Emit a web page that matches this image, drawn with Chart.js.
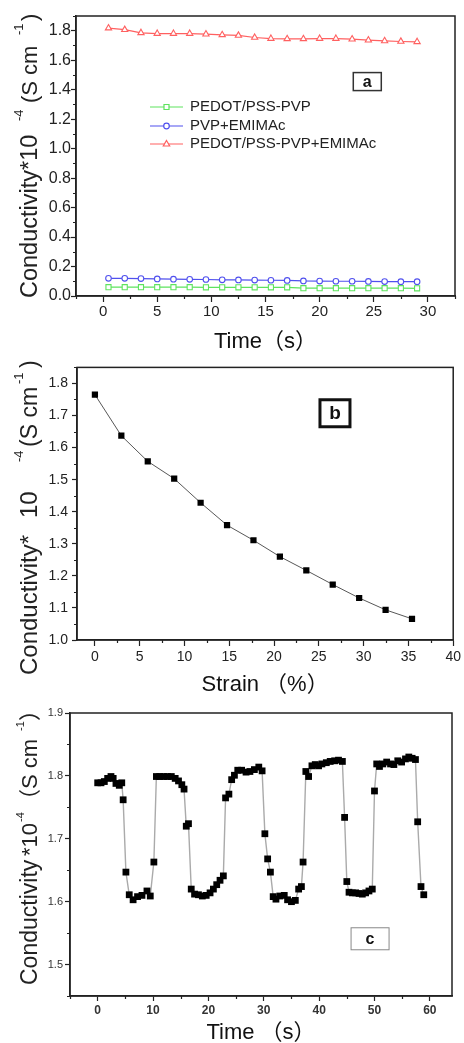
<!DOCTYPE html>
<html>
<head>
<meta charset="utf-8">
<title>Conductivity</title>
<script src="https://cdn.jsdelivr.net/npm/chart.js@4.4.0/dist/chart.umd.min.js"></script>
<style>
    html, body { margin: 0; padding: 0; background: #fff; }
    .panel { position: absolute; left: 0; }
</style>
</head>
<body>
<canvas id="chartA" class="panel" style="top:0" width="464" height="355"></canvas>
<canvas id="chartB" class="panel" style="top:355px" width="464" height="345"></canvas>
<canvas id="chartC" class="panel" style="top:700px" width="464" height="343"></canvas>
<script>
// ---- panel a: conductivity vs time for three films ----
const timeA = [0.5, 2, 3.5, 5, 6.5, 8, 9.5, 11, 12.5, 14, 15.5, 17, 18.5, 20, 21.5, 23, 24.5, 26, 27.5, 29];
const pedotPvp = [0.060, 0.060, 0.060, 0.060, 0.060, 0.060, 0.059, 0.059, 0.059, 0.059, 0.059, 0.059,
                  0.053, 0.053, 0.053, 0.053, 0.053, 0.053, 0.053, 0.052];
const pvpEmim = [0.120, 0.120, 0.118, 0.116, 0.114, 0.113, 0.112, 0.110, 0.109, 0.108, 0.107, 0.106,
                 0.102, 0.101, 0.100, 0.100, 0.099, 0.098, 0.097, 0.097];
const pedotPvpEmim = [1.818, 1.807, 1.786, 1.781, 1.781, 1.781, 1.777, 1.772, 1.768, 1.754, 1.747, 1.745,
                      1.745, 1.747, 1.747, 1.743, 1.736, 1.731, 1.727, 1.725];
const ticksAx = [0, 5, 10, 15, 20, 25, 30];
const minorAx = [-2.5, 2.5, 7.5, 12.5, 17.5, 22.5, 27.5, 32.5];
const ticksAy = [0, 0.2, 0.4, 0.6, 0.8, 1.0, 1.2, 1.4, 1.6, 1.8];
const minorAy = [0.1, 0.3, 0.5, 0.7, 0.9, 1.1, 1.3, 1.5, 1.7, 1.9];

// ---- panel b: conductivity vs strain ----
const strainB = [0, 2.95, 5.9, 8.85, 11.8, 14.75, 17.7, 20.65, 23.6, 26.55, 29.5, 32.45, 35.4];
const condB = [1.765, 1.637, 1.557, 1.503, 1.428, 1.358, 1.311, 1.260, 1.217, 1.173, 1.131, 1.094, 1.066];
const ticksBx = [0, 5, 10, 15, 20, 25, 30, 35, 40];
const minorBx = [2.5, 7.5, 12.5, 17.5, 22.5, 27.5, 32.5, 37.5];
const ticksBy = [1.0, 1.1, 1.2, 1.3, 1.4, 1.5, 1.6, 1.7, 1.8];
const minorBy = [1.05, 1.15, 1.25, 1.35, 1.45, 1.55, 1.65, 1.75, 1.85];

// ---- panel c: cyclic stretching ----
const timeC = [0.0, 0.6, 1.2, 1.8, 2.4, 2.8, 3.3, 3.9, 4.35, 4.6, 5.1, 5.7, 6.4, 7.2, 8.0, 8.9, 9.5,
               10.15, 10.6, 11.2, 11.9, 12.6, 13.3, 14.0, 14.6, 15.2, 15.6, 16.0, 16.4, 16.9, 17.5, 18.2,
               18.9, 19.6, 20.3, 20.9, 21.5, 22.1, 22.7, 23.1, 23.7, 24.2, 24.7, 25.3, 26.0, 26.8, 27.5,
               28.3, 29.1, 29.7, 30.2, 30.7, 31.2, 31.7, 32.2, 32.9, 33.7, 34.3, 35.0, 35.7, 36.3, 36.8,
               37.1, 37.6, 38.1, 38.7, 39.3, 39.9, 40.5, 41.3, 42.0, 42.8, 43.5, 44.2, 44.6, 45.0, 45.4,
               46.0, 46.6, 47.2, 47.8, 48.4, 49.0, 49.6, 50.0, 50.4, 50.9, 51.5, 52.2, 52.9, 53.5, 54.2,
               54.9, 55.6, 56.2, 56.8, 57.4, 57.8, 58.4, 58.9];
const condC = [1.789, 1.789, 1.791, 1.796, 1.799, 1.796, 1.788, 1.785, 1.789, 1.762, 1.647, 1.611, 1.603,
               1.608, 1.610, 1.617, 1.609, 1.663, 1.799, 1.799, 1.799, 1.799, 1.799, 1.796, 1.792, 1.786,
               1.779, 1.720, 1.724, 1.620, 1.612, 1.611, 1.609, 1.610, 1.614, 1.620, 1.627, 1.634, 1.641,
               1.765, 1.771, 1.794, 1.801, 1.809, 1.809, 1.806, 1.807, 1.810, 1.814, 1.808, 1.708, 1.668,
               1.647, 1.608, 1.604, 1.609, 1.610, 1.603, 1.600, 1.602, 1.620, 1.624, 1.663, 1.807, 1.799,
               1.816, 1.818, 1.816, 1.819, 1.821, 1.823, 1.824, 1.825, 1.823, 1.734, 1.632, 1.615, 1.614,
               1.614, 1.613, 1.612, 1.614, 1.617, 1.620, 1.776, 1.819, 1.815, 1.819, 1.822, 1.819, 1.818,
               1.824, 1.822, 1.827, 1.830, 1.828, 1.826, 1.727, 1.624, 1.611];
const ticksCx = [0, 10, 20, 30, 40, 50, 60];
const minorCx = [-5, 5, 15, 25, 35, 45, 55];
const ticksCy = [1.5, 1.6, 1.7, 1.8, 1.9];
const minorCy = [1.45, 1.55, 1.65, 1.75, 1.85];

const FONT = "'Liberation Sans', Arial, 'Noto Sans CJK SC', sans-serif";
const INK = '#222';

// pair up x and y arrays for scatter datasets
function points(xs, ys) {
    return xs.map((x, i) => ({ x: x, y: ys[i] }));
}

// frame round the plot area (Origin style box)
const framePlugin = {
    id: 'frame',
    afterDraw(chart) {
        const { ctx, chartArea: a } = chart;
        ctx.save();
        ctx.strokeStyle = INK;
        ctx.lineWidth = 1.5;
        ctx.strokeRect(a.left, a.top, a.right - a.left, a.bottom - a.top);
        ctx.restore();
    }
};

// short unlabeled ticks between the major ones
const minorTickPlugin = {
    id: 'minorTicks',
    afterDraw(chart, args, opts) {
        const { ctx, chartArea: a, scales } = chart;
        ctx.save();
        ctx.strokeStyle = INK;
        ctx.lineWidth = 1.2;
        ctx.beginPath();
        (opts.x || []).forEach(v => {
            const px = Math.round(scales.x.getPixelForValue(v)) + 0.5;
            ctx.moveTo(px, a.bottom);
            ctx.lineTo(px, a.bottom + opts.len);
        });
        (opts.y || []).forEach(v => {
            const py = Math.round(scales.y.getPixelForValue(v)) + 0.5;
            ctx.moveTo(a.left, py);
            ctx.lineTo(a.left - opts.len, py);
        });
        ctx.stroke();
        ctx.restore();
    }
};

// rotated y title with raised exponents
const yTitlePlugin = {
    id: 'yTitle',
    afterDraw(chart, args, opts) {
        if (!opts.parts) return;
        const ctx = chart.ctx;
        ctx.save();
        ctx.fillStyle = INK;
        ctx.textBaseline = 'alphabetic';
        ctx.textAlign = 'left';
        opts.parts.forEach(p => {
            ctx.save();
            ctx.translate(opts.x, p.at);
            ctx.rotate(-Math.PI / 2);
            ctx.font = p.size + 'px ' + FONT;
            ctx.fillText(p.text, 0, -(p.raise || 0));
            ctx.restore();
        });
        ctx.restore();
    }
};

// boxed panel letter, placed in data units
const panelLabelPlugin = {
    id: 'panelLabel',
    afterDraw(chart, args, opts) {
        if (!opts.text) return;
        const { ctx, scales } = chart;
        const cx = scales.x.getPixelForValue(opts.x);
        const cy = scales.y.getPixelForValue(opts.y);
        ctx.save();
        ctx.fillStyle = '#fff';
        ctx.fillRect(cx - opts.w / 2, cy - opts.h / 2, opts.w, opts.h);
        ctx.strokeStyle = opts.color;
        ctx.lineWidth = opts.lineWidth;
        ctx.strokeRect(cx - opts.w / 2, cy - opts.h / 2, opts.w, opts.h);
        ctx.fillStyle = '#111';
        ctx.font = 'bold ' + opts.size + 'px ' + FONT;
        ctx.textAlign = 'center';
        ctx.textBaseline = 'middle';
        ctx.fillText(opts.text, cx, cy + 1);
        ctx.restore();
    }
};

// legend with line + marker samples inside the plot
const lineLegendPlugin = {
    id: 'lineLegend',
    afterDraw(chart, args, opts) {
        if (!opts.rows) return;
        const ctx = chart.ctx;
        ctx.save();
        chart.data.datasets.forEach((ds, i) => {
            const y = opts.rows[i];
            ctx.strokeStyle = ds.borderColor;
            ctx.lineWidth = 1.2;
            ctx.beginPath();
            ctx.moveTo(opts.x0, y);
            ctx.lineTo(opts.x1, y);
            ctx.stroke();
            const mx = (opts.x0 + opts.x1) / 2;
            ctx.fillStyle = '#fff';
            ctx.beginPath();
            if (ds.pointStyle === 'rect') {
                ctx.rect(mx - 2.5, y - 2.5, 5, 5);
            } else if (ds.pointStyle === 'circle') {
                ctx.arc(mx, y, 2.8, 0, Math.PI * 2);
            } else {
                ctx.moveTo(mx, y - 3.5);
                ctx.lineTo(mx + 3.2, y + 2);
                ctx.lineTo(mx - 3.2, y + 2);
                ctx.closePath();
            }
            ctx.fill();
            ctx.stroke();
            ctx.fillStyle = INK;
            ctx.font = opts.size + 'px ' + FONT;
            ctx.textBaseline = 'middle';
            ctx.fillText(ds.label, opts.textX, y);
        });
        ctx.restore();
    }
};

Chart.register(framePlugin, minorTickPlugin, yTitlePlugin, panelLabelPlugin, lineLegendPlugin);

// common axis builder
function axis(o) {
    return {
        type: 'linear',
        min: o.min,
        max: o.max,
        afterBuildTicks: s => { s.ticks = o.ticks.map(v => ({ value: v })); },
        afterFit: s => { if (o.width) s.width = o.width; if (o.height) s.height = o.height; },
        grid: { drawOnChartArea: false, drawTicks: true, tickLength: o.tickLength, tickColor: INK, tickWidth: 1.2 },
        border: { display: true, color: INK, width: 1.5 },
        ticks: {
            autoSkip: false,
            maxRotation: 0,
            padding: o.pad,
            color: o.color || INK,
            font: { family: FONT, size: o.size, weight: o.weight || 'normal' },
            callback: o.fmt
        },
        title: o.title ? {
            display: true,
            text: o.title,
            color: '#111',
            font: { family: FONT, size: 22, lineHeight: o.titleLH || 1.2 },
            padding: { top: 0, bottom: o.titlePad || 0 }
        } : { display: false }
    };
}

const baseOptions = {
    responsive: false,
    animation: false,
    events: []
};

// ---- chart a ----
new Chart(document.getElementById('chartA'), {
    type: 'scatter',
    data: {
        datasets: [
            {
                label: 'PEDOT/PSS-PVP',
                data: points(timeA, pedotPvp),
                showLine: true,
                borderColor: '#5ee35e',
                borderWidth: 1.2,
                pointStyle: 'rect',
                pointRadius: 3.6,
                pointBorderWidth: 1.1,
                pointBackgroundColor: '#fff'
            },
            {
                label: 'PVP+EMIMAc',
                data: points(timeA, pvpEmim),
                showLine: true,
                borderColor: '#5050ee',
                borderWidth: 1.2,
                pointStyle: 'circle',
                pointRadius: 2.8,
                pointBorderWidth: 1.1,
                pointBackgroundColor: '#fff'
            },
            {
                label: 'PEDOT/PSS-PVP+EMIMAc',
                data: points(timeA, pedotPvpEmim),
                showLine: true,
                borderColor: '#ff6060',
                borderWidth: 1.2,
                pointStyle: 'triangle',
                pointRadius: 3.6,
                pointBorderWidth: 1.1,
                pointBackgroundColor: '#fff'
            }
        ]
    },
    options: {
        ...baseOptions,
        layout: { padding: { top: 16, right: 9, left: 0, bottom: 0 } },
        plugins: {
            legend: { display: false },
            tooltip: { enabled: false },
            minorTicks: { x: minorAx, y: minorAy, len: 3 },
            yTitle: {
                x: 37,
                parts: [
                    { text: 'Conductivity*10', at: 298, size: 23.5 },
                    { text: '-4', at: 121, size: 13, raise: 14 },
                    { text: '(S cm', at: 103, size: 22 },
                    { text: '-1', at: 35, size: 13, raise: 14 },
                    { text: ')', at: 21, size: 22 }
                ]
            },
            panelLabel: { text: 'a', x: 24.4, y: 1.455, w: 28, h: 18, lineWidth: 1.5, color: '#333', size: 16 },
            lineLegend: { rows: [107, 126, 144], x0: 150, x1: 183, textX: 190, size: 15 }
        },
        scales: {
            x: axis({ min: -2.5, max: 32.5, ticks: ticksAx, height: 59, tickLength: 6, pad: 1, size: 15,
                      fmt: v => String(v), title: 'Time（s）' }),
            y: axis({ min: 0, max: 1.9, ticks: ticksAy, width: 76, tickLength: 5, pad: 0, size: 16,
                      fmt: v => v.toFixed(1) })
        }
    }
});

// ---- chart b ----
new Chart(document.getElementById('chartB'), {
    type: 'scatter',
    data: {
        datasets: [{
            label: 'Strain',
            data: points(strainB, condB),
            showLine: true,
            borderColor: '#444',
            borderWidth: 0.9,
            pointStyle: 'rect',
            pointRadius: 4.4,
            pointBorderWidth: 0,
            pointBackgroundColor: '#000'
        }]
    },
    options: {
        ...baseOptions,
        layout: { padding: { top: 6, right: 8, left: 0, bottom: 0 } },
        plugins: {
            legend: { display: false },
            tooltip: { enabled: false },
            minorTicks: { x: minorBx, y: minorBy, len: 3 },
            yTitle: {
                x: 37,
                parts: [
                    { text: 'Conductivity*', at: 320, size: 24 },
                    { text: '10', at: 163, size: 24 },
                    { text: '-4', at: 107, size: 13, raise: 14 },
                    { text: '(S cm', at: 92, size: 23 },
                    { text: '-1', at: 29, size: 13, raise: 14 },
                    { text: ')', at: 13, size: 23 }
                ]
            },
            panelLabel: { text: 'b', x: 26.8, y: 1.707, w: 30, h: 27, lineWidth: 3, color: '#111', size: 19 }
        },
        scales: {
            x: axis({ min: -2, max: 40, ticks: ticksBx, height: 60, tickLength: 6, pad: 3, size: 14,
                      fmt: v => String(v), title: 'Strain （%）', titlePad: 2 }),
            y: axis({ min: 1.0, max: 1.85, ticks: ticksBy, width: 77, tickLength: 5, pad: 4, size: 14,
                      fmt: v => v.toFixed(1) })
        }
    }
});

// ---- chart c ----
new Chart(document.getElementById('chartC'), {
    type: 'scatter',
    data: {
        datasets: [{
            label: 'Cycle',
            data: points(timeC, condC),
            showLine: true,
            borderColor: '#aaa',
            borderWidth: 1.4,
            pointStyle: 'rect',
            pointRadius: 4.8,
            pointBorderWidth: 0,
            pointBackgroundColor: '#000'
        }]
    },
    options: {
        ...baseOptions,
        layout: { padding: { top: 13, right: 12, left: 0, bottom: 0 } },
        plugins: {
            legend: { display: false },
            tooltip: { enabled: false },
            minorTicks: { x: minorCx, y: minorCy, len: 3 },
            yTitle: {
                x: 37,
                parts: [
                    { text: 'Conductivity', at: 285, size: 23 },
                    { text: '*10', at: 156, size: 22 },
                    { text: '-4', at: 122, size: 11, raise: 13 },
                    { text: '（S cm', at: 111, size: 22 },
                    { text: '-1', at: 31, size: 11, raise: 13 },
                    { text: '）', at: 21, size: 22 }
                ]
            },
            panelLabel: { text: 'c', x: 49.2, y: 1.541, w: 38, h: 22, lineWidth: 1, color: '#888', size: 16 }
        },
        scales: {
            x: axis({ min: -5, max: 64, ticks: ticksCx, height: 47, tickLength: 5, pad: 2, size: 12,
                      weight: 'bold', color: '#333', fmt: v => String(v), title: 'Time （s）', titleLH: 0.9 }),
            y: axis({ min: 1.45, max: 1.9, ticks: ticksCy, width: 70, tickLength: 5, pad: 2, size: 11,
                      color: '#333', fmt: v => v.toFixed(1) })
        }
    }
});
</script>
</body>
</html>
